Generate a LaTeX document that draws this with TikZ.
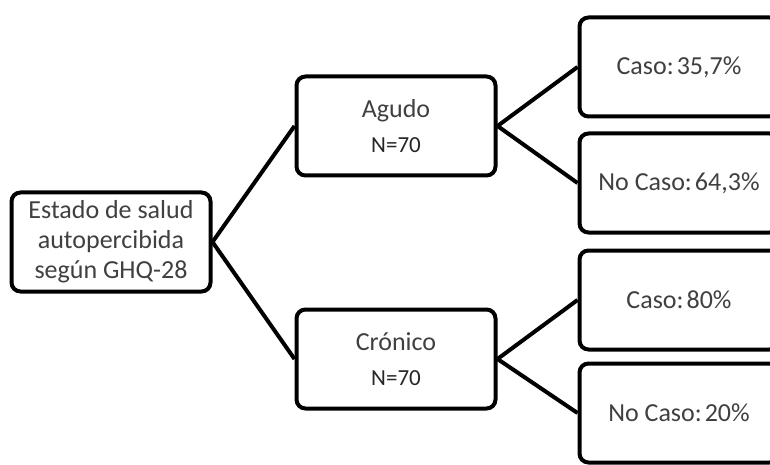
\documentclass[tikz,border=0pt]{standalone}
\usepackage{fontspec}
\setmainfont{Carlito}
\usetikzlibrary{positioning}

\begin{document}
\begin{tikzpicture}[x=1pt, y=1pt, main/.style = {rectangle, rounded corners=9pt, line width=4pt, draw, minimum width=199pt, minimum height=99pt, align=center, text=black!75, font=\fontsize{26}{30}\selectfont}]
    \useasboundingbox (0,0) rectangle (770,464);
    \clip (0,0) rectangle (770,464);

    \node[main] (1) at (111,222) {Estado de salud\\autopercibida\\según GHQ-28};

    \node[main] (2) [right=82pt of 1, yshift=116pt] {Agudo\\[5pt]{\fontsize{23}{27}\selectfont\color{black!85}N=70}};
    \node[main] (3) [right=82pt of 1, yshift=-117pt] {Crónico\\[5pt]{\fontsize{23}{27}\selectfont\color{black!85}N=70}};

    \path[line width=4pt] (1.east) edge (2.west);
    \path[line width=4pt] (1.east) edge (3.west);

    \node[main] (4) [right=80pt of 2, yshift=59pt] {Caso:\hspace{3pt}35,7\%};
    \node[main] (5) [right=80pt of 2, yshift=-57pt] {No Caso:\hspace{3pt}64,3\%};
    \path[line width=4pt] (2.east) edge (4.west);
    \path[line width=4pt] (2.east) edge (5.west);

    \node[main] (6) [right=80pt of 3, yshift=59pt] {Caso:\hspace{3pt}80\%};
    \node[main] (7) [right=80pt of 3, yshift=-54pt] {No Caso:\hspace{3pt}20\%};
    \path[line width=4pt] (3.east) edge (6.west);
    \path[line width=4pt] (3.east) edge (7.west);

\end{tikzpicture}
\end{document}
